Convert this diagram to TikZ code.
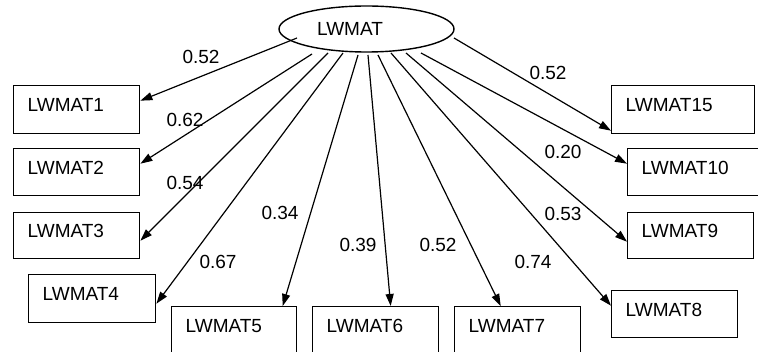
\documentclass[tikz,border=0pt]{standalone}
\usepackage{fontspec}
\setmainfont{Liberation Sans}
\usetikzlibrary{arrows.meta,shapes.geometric}
\begin{document}
\begin{tikzpicture}[x=1pt,y=-1pt,
  font=\fontsize{19}{22}\selectfont,
  box/.style={draw, line width=1.4pt, anchor=north west, inner xsep=14pt, inner ysep=0pt,
    text depth=9pt, align=left, text width=#1, minimum height=48pt},
  wlab/.style={inner sep=0pt},
  arr/.style={line width=1.2pt, -{Triangle[length=12pt,width=8pt]}}]
\clip (0,0) rectangle (758,352);
% latent variable
\node[ellipse, draw, line width=1.4pt, minimum width=175pt, minimum height=46pt, inner sep=0pt]
  (lat) at (366.5,29) {\hspace*{-33pt}LWMAT};
% indicators
\node[box=98pt]                      (b1)  at (13,85)   {LWMAT1};
\node[box=98pt, minimum height=47pt] (b2)  at (13,148)  {LWMAT2};
\node[box=98pt, minimum height=46pt] (b3)  at (13,212)  {LWMAT3};
\node[box=99pt]                      (b4)  at (28,274)  {LWMAT4};
\node[box=97pt]                      (b5)  at (171,306) {LWMAT5};
\node[box=98pt]                      (b6)  at (312,306) {LWMAT6};
\node[box=98pt]                      (b7)  at (454,306) {LWMAT7};
\node[box=98pt, minimum height=47pt] (b8)  at (611,290) {LWMAT8};
\node[box=98pt, minimum height=46pt] (b9)  at (627,212) {LWMAT9};
\node[box=103pt, minimum height=47pt] (b10) at (627,148) {LWMAT10};
\node[box=115pt]                     (b15) at (611,85)  {LWMAT15};
% loadings
\draw[arr] ([shift={(-69.5,9)}]lat.center) -- ([shift={(0,-9)}]b1.east);
\draw[arr] ([shift={(-54.5,25)}]lat.center) -- ([shift={(0,-8.5)}]b2.east);
\draw[arr] ([shift={(-38.5,24)}]lat.center) -- ([shift={(0,5)}]b3.east);
\draw[arr] ([shift={(-23.5,24)}]lat.center) -- ([shift={(0,5)}]b4.east);
\draw[arr] ([shift={(-8.5,26)}]lat.center) -- ([shift={(48.5,0)}]b5.north);
\draw[arr] ([shift={(1.5,26)}]lat.center) -- ([shift={(15,0)}]b6.north);
\draw[arr] ([shift={(11.5,26)}]lat.center) -- ([shift={(-17,0)}]b7.north);
\draw[arr] ([shift={(24.5,24)}]lat.center) -- ([shift={(0,-8.5)}]b8.west);
\draw[arr] ([shift={(39.5,24)}]lat.center) -- ([shift={(0,6)}]b9.west);
\draw[arr] ([shift={(54.5,24)}]lat.center) -- ([shift={(0,-8.5)}]b10.west);
\draw[arr] ([shift={(87.5,9)}]lat.center) -- ([shift={(0,21)}]b15.west);
% labels
\node[wlab] (w1)  at (201,57)  {0.52};
\node[wlab] (w2)  at (185,120) {0.62};
\node[wlab] (w3)  at (185,183) {0.54};
\node[wlab] (w4)  at (218,262) {0.67};
\node[wlab] (w5)  at (280,213) {0.34};
\node[wlab] (w6)  at (358,245) {0.39};
\node[wlab] (w7)  at (438,245) {0.52};
\node[wlab] (w8)  at (533,262) {0.74};
\node[wlab] (w9)  at (563,214) {0.53};
\node[wlab] (w10) at (563,152) {0.20};
\node[wlab] (w15) at (548,73)  {0.52};
\end{tikzpicture}
\end{document}
